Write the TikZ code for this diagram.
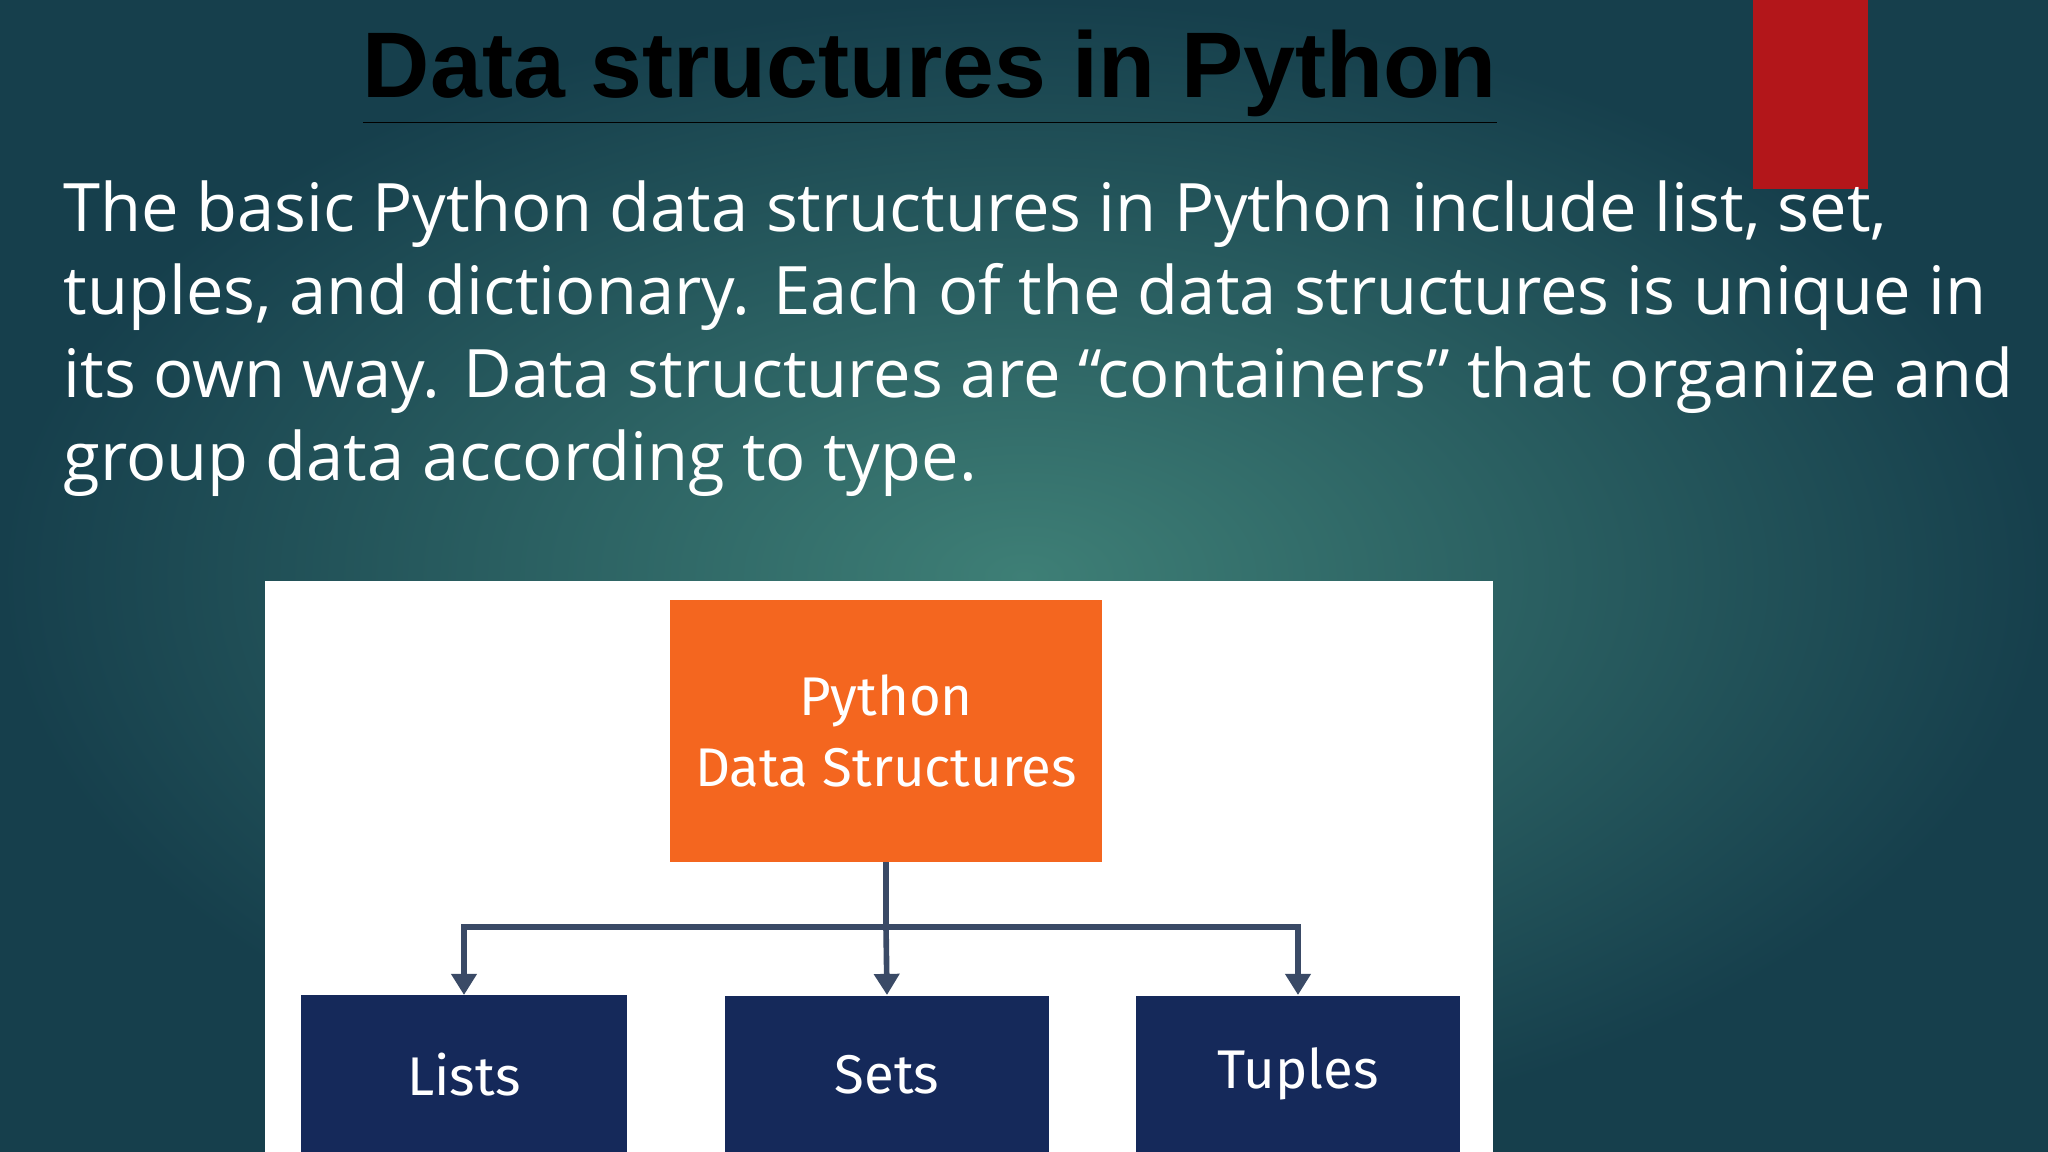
\documentclass[tikz,border=0pt]{standalone}
\usepackage{fontspec}
\setmainfont{Open Sans}
\newfontfamily\titlefont{Liberation Sans}
\newfontfamily\boxfont{Fira Sans}
\usetikzlibrary{arrows.meta}
\definecolor{bgedge}{HTML}{163F4C}
\definecolor{bgmid}{HTML}{3E7F76}
\definecolor{redbar}{HTML}{B3161A}
\definecolor{orng}{HTML}{F4661F}
\definecolor{navy}{HTML}{15295A}
\definecolor{conn}{HTML}{3A4A66}
\tikzset{
  para/.style={anchor=base west,text=white,inner sep=0,font=\fontsize{19}{22}\selectfont},
  kid/.style={fill=navy,text=white,minimum width=3.24cm,minimum height=1.57cm,inner sep=0,font=\boxfont\fontsize{15.5}{18}\selectfont},
  link/.style={conn,line width=1.6pt,-{Triangle[length=6pt,width=7pt]}}
}
\begin{document}
\begin{tikzpicture}[x=0.01cm,y=-0.01cm]
\useasboundingbox (0,0) rectangle (2048,1152);
\shade[inner color=bgmid,outer color=bgedge] (0,0) rectangle (2048,1152);
\fill[redbar] (1753,0) rectangle (1868,189);
\node[anchor=base,inner sep=0,font=\titlefont\bfseries\fontsize{26.5}{30}\selectfont] (title) at (930,98) {\underline{Data structures in Python}};
\node[para] (l1) at (63,232) {The basic Python data structures in Python include list, set,};
\node[para] (l2) at (63,315) {tuples, and dictionary. Each of the data structures is unique in};
\node[para] (l3) at (63,398) {its own way. Data structures are “containers” that organize and};
\node[para] (l4) at (63,481) {group data according to type.};
\fill[white] (265,581) rectangle (1493,1152);
\node[fill=orng,text=white,minimum width=4.31cm,minimum height=2.61cm,inner sep=0,align=center,font=\boxfont\fontsize{15.5}{20}\selectfont] (root) at (886,731) {Python\\Data Structures};
\node[kid,anchor=north] (lists) at (464,995) {Lists};
\node[kid,anchor=north] (sets) at (887,995) {Sets};
\node[kid,anchor=north] (tuples) at (1298,995) {Tuples};
\begin{scope}
\clip (265,581) rectangle (1493,1152);
\fill[navy] (lists.north west) rectangle (lists.south east);
\end{scope}
\coordinate (j) at (886,927);
\draw[conn,line width=1.6pt] (root.south) -- (j);
\draw[link] (j) -| (lists.north);
\draw[link] (j) -- (sets.north);
\draw[link] (j) -| (tuples.north);
\node[kid,anchor=north,fill=none] at (464,995) {Lists};
\end{tikzpicture}
\end{document}
